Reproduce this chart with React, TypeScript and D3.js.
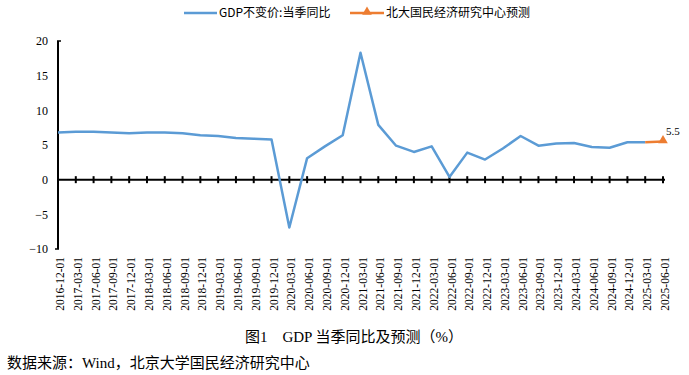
import React, { useEffect, useRef } from 'react';
import * as d3 from 'd3';

const dates = [
  '2016-12-01', '2017-03-01', '2017-06-01', '2017-09-01', '2017-12-01',
  '2018-03-01', '2018-06-01', '2018-09-01', '2018-12-01',
  '2019-03-01', '2019-06-01', '2019-09-01', '2019-12-01',
  '2020-03-01', '2020-06-01', '2020-09-01', '2020-12-01',
  '2021-03-01', '2021-06-01', '2021-09-01', '2021-12-01',
  '2022-03-01', '2022-06-01', '2022-09-01', '2022-12-01',
  '2023-03-01', '2023-06-01', '2023-09-01', '2023-12-01',
  '2024-03-01', '2024-06-01', '2024-09-01', '2024-12-01',
  '2025-03-01', '2025-06-01',
];

// GDP 不变价 当季同比 (2016-12 .. 2025-03)
const gdpValues = [
  6.8, 6.9, 6.9, 6.8, 6.7,
  6.8, 6.8, 6.7, 6.4,
  6.3, 6.0, 5.9, 5.8,
  -6.9, 3.1, 4.8, 6.4,
  18.3, 7.9, 4.9, 4.0,
  4.8, 0.4, 3.9, 2.9,
  4.5, 6.3, 4.9, 5.2,
  5.3, 4.7, 4.6, 5.4,
  5.4,
];

// 北大国民经济研究中心预测
const forecastDates = ['2025-03-01', '2025-06-01'];
const forecastValues = [5.4, 5.5];

const yTicks = [-10, -5, 0, 5, 10, 15, 20];

const seriesNames = ['GDP不变价:当季同比', '北大国民经济研究中心预测'];
const title = '图1　GDP 当季同比及预测（%）';
const source = '数据来源：Wind，北京大学国民经济研究中心';

const BLUE = '#5B9BD5';
const ORANGE = '#ED7D31';

const App = () => {
  const ref = useRef<SVGSVGElement>(null);

  useEffect(() => {
    const svg = d3.select(ref.current);
    svg.selectAll('*').remove();

    const x = d3.scalePoint<string>().domain(dates).range([58, 663]);
    const y = d3.scaleLinear().domain([-10, 20]).range([249, 41]);
    const y0 = y(0);

    // Y axis labels
    const yAxis = svg.append('g')
      .attr('transform', 'translate(58,0)')
      .call(d3.axisLeft(y).tickValues(yTicks).tickSize(0).tickPadding(10));
    yAxis.select('.domain').remove();
    yAxis.selectAll('text')
      .attr('font-family', '"Liberation Serif", "Times New Roman", serif')
      .attr('font-size', 12)
      .attr('fill', '#000');

    // y axis line
    svg.append('line')
      .attr('x1', 58).attr('x2', 58)
      .attr('y1', y(20)).attr('y2', y(-10))
      .attr('stroke', '#000').attr('stroke-width', 2);
    svg.append('line')
      .attr('x1', 57).attr('x2', 61)
      .attr('y1', y(20)).attr('y2', y(20))
      .attr('stroke', '#000').attr('stroke-width', 1.5);
    svg.append('line')
      .attr('x1', 55).attr('x2', 59)
      .attr('y1', y(-10)).attr('y2', y(-10))
      .attr('stroke', '#000').attr('stroke-width', 1.5);

    // zero line with tick marks
    svg.append('line')
      .attr('x1', 58).attr('x2', (x(dates[dates.length - 1]) as number) + 2)
      .attr('y1', y0).attr('y2', y0)
      .attr('stroke', '#000').attr('stroke-width', 2);
    svg.append('g')
      .selectAll('line')
      .data(dates.slice(1))
      .join('line')
      .attr('x1', d => x(d) as number).attr('x2', d => x(d) as number)
      .attr('y1', y0 - 3.5).attr('y2', y0 + 3.5)
      .attr('stroke', '#000').attr('stroke-width', 2);

    // x labels
    svg.append('g')
      .selectAll('text')
      .data(dates)
      .join('text')
      .attr('transform', d => `translate(${(x(d) as number) + 2},257) rotate(-90)`)
      .attr('text-anchor', 'end')
      .attr('dy', '0.35em')
      .attr('font-family', '"Liberation Serif", "Times New Roman", serif')
      .attr('font-size', 11.5)
      .attr('fill', '#000')
      .text(d => d);

    // lines
    const line = d3.line<[string, number]>()
      .x(d => x(d[0]) as number)
      .y(d => y(d[1]));

    svg.append('path')
      .datum(gdpValues.map((v, i) => [dates[i], v] as [string, number]))
      .attr('d', line)
      .attr('fill', 'none')
      .attr('stroke', BLUE)
      .attr('stroke-width', 2.5)
      .attr('stroke-linejoin', 'round');

    const fc = forecastValues.map((v, i) => [forecastDates[i], v] as [string, number]);
    svg.append('path')
      .datum(fc)
      .attr('d', line)
      .attr('fill', 'none')
      .attr('stroke', ORANGE)
      .attr('stroke-width', 2.5);

    const tri = d3.symbol().type(d3.symbolTriangle).size(40);
    const last = fc[fc.length - 1];
    svg.append('path')
      .attr('d', tri())
      .attr('transform', `translate(${x(last[0])},${y(last[1]) - 1})`)
      .attr('fill', ORANGE);
    svg.append('text')
      .attr('x', (x(last[0]) as number) + 3)
      .attr('y', y(last[1]) - 7)
      .attr('font-family', '"Liberation Serif", "Times New Roman", serif')
      .attr('font-size', 11)
      .attr('fill', '#000')
      .text(String(last[1]));

    // legend
    const lg = svg.append('g')
      .attr('font-family', '"Noto Sans CJK SC", "Noto Sans", sans-serif')
      .attr('font-size', 12)
      .attr('fill', '#000');
    lg.append('line')
      .attr('x1', 184).attr('x2', 217).attr('y1', 13).attr('y2', 13)
      .attr('stroke', BLUE).attr('stroke-width', 2.5);
    lg.append('text')
      .attr('x', 219).attr('y', 13).attr('dy', '0.35em')
      .text(seriesNames[0]);
    lg.append('line')
      .attr('x1', 350).attr('x2', 384).attr('y1', 13).attr('y2', 13)
      .attr('stroke', ORANGE).attr('stroke-width', 2.5);
    lg.append('path')
      .attr('d', tri())
      .attr('transform', 'translate(367,12)')
      .attr('fill', ORANGE);
    lg.append('text')
      .attr('x', 386).attr('y', 13).attr('dy', '0.35em')
      .text(seriesNames[1]);

    // caption + source
    svg.append('text')
      .attr('x', 354).attr('y', 337).attr('dy', '0.35em')
      .attr('text-anchor', 'middle')
      .attr('font-family', '"Liberation Serif", "Noto Sans CJK SC", serif')
      .attr('font-size', 15)
      .attr('fill', '#000')
      .text(title);
    svg.append('text')
      .attr('x', 7).attr('y', 363).attr('dy', '0.35em')
      .attr('font-family', '"Liberation Serif", "Noto Sans CJK SC", serif')
      .attr('font-size', 15)
      .attr('fill', '#000')
      .text(source);
  }, []);

  return (
    <svg
      ref={ref}
      width={689}
      height={375}
      style={{ position: 'absolute', left: 0, top: 0, background: '#fff' }}
    />
  );
};

export default App;
